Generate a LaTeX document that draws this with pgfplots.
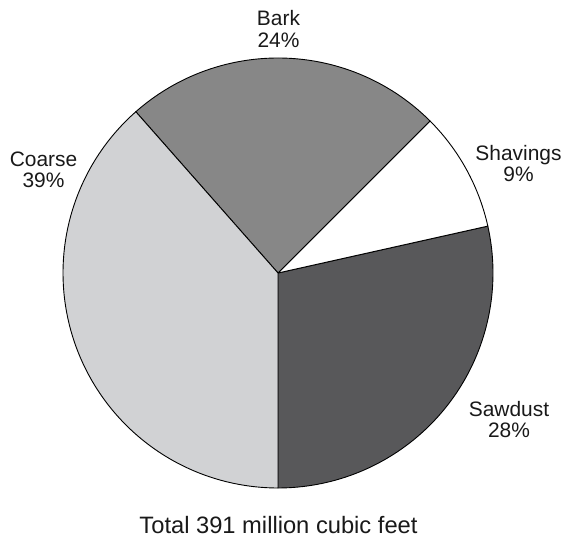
\documentclass[border=0pt]{standalone}
\usepackage{pgfplots}
\pgfplotsset{compat=1.18}
\usepackage{fontspec}
\setmainfont{Liberation Sans}
\definecolor{barkc}{HTML}{878787}
\definecolor{coarsec}{HTML}{D1D2D4}
\definecolor{sawdustc}{HTML}{58585A}
\definecolor{shavc}{HTML}{FFFFFF}
% shares in percent
\def\pSawdust{28.5}
\def\pShavings{9}
\def\pBark{24}
\def\pCoarse{38.5}
\def\cx{278}
\def\cy{266}
\def\R{215}
\begin{document}
\begin{tikzpicture}
\pgfmathsetmacro{\aA}{-90}
\pgfmathsetmacro{\aB}{\aA+3.6*\pSawdust}
\pgfmathsetmacro{\aC}{\aB+3.6*\pShavings}
\pgfmathsetmacro{\aD}{\aC+3.6*\pBark}
\pgfmathsetmacro{\aE}{\aD+3.6*\pCoarse}
\begin{axis}[
  width=564bp, height=539bp, scale only axis,
  xmin=0, xmax=564, ymin=0, ymax=539,
  hide axis, clip=false,
]
\path (axis cs:0,0) rectangle (axis cs:564,539);
\addplot[draw=black, line width=0.9bp, fill=sawdustc, domain=\aA:\aB, samples=80, variable=\t]
  ({\cx+\R*cos(\t)},{\cy+\R*sin(\t)}) -- (axis cs:\cx,\cy) -- cycle;
\addplot[draw=black, line width=0.9bp, fill=shavc, domain=\aB:\aC, samples=40, variable=\t]
  ({\cx+\R*cos(\t)},{\cy+\R*sin(\t)}) -- (axis cs:\cx,\cy) -- cycle;
\addplot[draw=black, line width=0.9bp, fill=barkc, domain=\aC:\aD, samples=80, variable=\t]
  ({\cx+\R*cos(\t)},{\cy+\R*sin(\t)}) -- (axis cs:\cx,\cy) -- cycle;
\addplot[draw=black, line width=0.9bp, fill=coarsec, domain=\aD:\aE, samples=120, variable=\t]
  ({\cx+\R*cos(\t)},{\cy+\R*sin(\t)}) -- (axis cs:\cx,\cy) -- cycle;
\begin{scope}[every node/.style={anchor=base, inner sep=0pt, font=\fontsize{21}{22}\selectfont, text=black!90}]
\node at (axis cs:278.5,513) {Bark};
\node at (axis cs:278.5,491) {24\%};
\node at (axis cs:43.5,372) {Coarse};
\node at (axis cs:43.5,351) {39\%};
\node at (axis cs:518.5,378.3) {Shavings};
\node at (axis cs:518.5,357.3) {9\%};
\node at (axis cs:509,122.3) {Sawdust};
\node at (axis cs:509,101) {28\%};
\node[font=\fontsize{23.8}{26}\selectfont] at (axis cs:278.5,6) {Total 391 million cubic feet};
\end{scope}
\end{axis}
\end{tikzpicture}
\end{document}
